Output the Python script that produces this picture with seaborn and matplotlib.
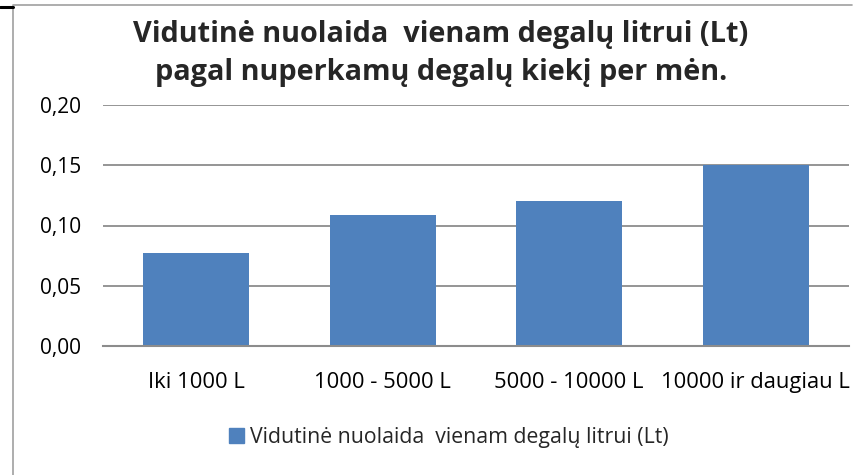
import matplotlib
matplotlib.use("Agg")
import matplotlib.pyplot as plt
import seaborn as sns
import pandas as pd
from matplotlib.lines import Line2D
from matplotlib.patches import Patch
from matplotlib.ticker import FuncFormatter

categories = ['Iki 1000 L', '1000 - 5000 L', '5000 - 10000 L', '10000 ir daugiau L']
discount = [0.077, 0.109, 0.120, 0.150]
series_name = 'Vidutinė nuolaida  vienam degalų litrui (Lt)'
title = 'Vidutinė nuolaida  vienam degalų litrui (Lt)\npagal nuperkamų degalų kiekį per mėn.'

df = pd.DataFrame({'kiekis': categories, 'nuolaida': discount})

sns.set_style('white')
plt.rcParams['font.family'] = ['Open Sans', 'DejaVu Sans']

fig = plt.figure(figsize=(8.56, 4.75), dpi=100)
ax = fig.add_axes([103/856, 1 - 346/475, 746/856, 241/475])

sns.barplot(data=df, x='kiekis', y='nuolaida', color='#4F81BD', width=0.57,
            saturation=1, edgecolor='none', ax=ax)

ax.set_ylim(0, 0.20)
ax.set_yticks([0, 0.05, 0.10, 0.15, 0.20])
ax.yaxis.set_major_formatter(FuncFormatter(lambda v, p: '{:.2f}'.format(v).replace('.', ',')))
ax.yaxis.grid(True, color='#8c8c8c', linewidth=1.3)
ax.set_axisbelow(True)
for s in ['top', 'right', 'left']:
    ax.spines[s].set_visible(False)
ax.spines['bottom'].set_color('#8c8c8c')
ax.spines['bottom'].set_linewidth(1.5)
ax.tick_params(axis='both', length=0, colors='black')
ax.tick_params(axis='y', pad=16, labelsize=15)
ax.tick_params(axis='x', pad=19, labelsize=15.8)
ax.set_xlabel('')
ax.set_ylabel('')

fig.text(441/856, 1 - 20/475, title, ha='center', va='top', fontsize=20.8,
         fontweight='bold', linespacing=1.42)

fig.legend(handles=[Patch(color='#4F81BD', label=series_name)], loc='center',
           bbox_to_anchor=(449/856, 1 - 437/475), frameon=False, fontsize=15.3,
           handlelength=0.7, handleheight=0.7, handletextpad=0.3)

# chart frame
fig.add_artist(Line2D([13/856, 13/856], [0, 1 - 6/475], color='#a0a0a0', lw=1.2))
fig.add_artist(Line2D([13/856, 852/856], [1 - 5/475, 1 - 5/475], color='#a0a0a0', lw=1.2))
fig.add_artist(Line2D([0, 13/856], [1 - 7/475, 1 - 7/475], color='black', lw=2.2))

fig.savefig('out.png', dpi=100)
